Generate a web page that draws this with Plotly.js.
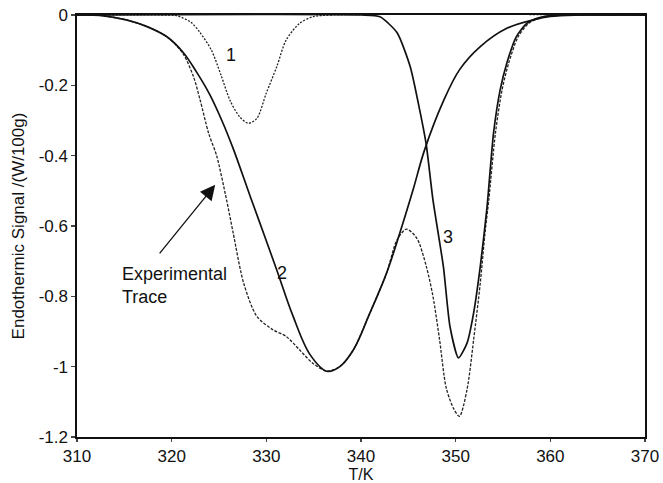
<!DOCTYPE html>
<html>
<head>
<meta charset="utf-8">
<script src="https://cdn.plot.ly/plotly-3.0.1.min.js"></script>
<style>html,body{margin:0;padding:0;background:#fff;}#chart{width:663px;height:483px;}</style>
</head>
<body>
<div id="chart"></div>
<script>
// Curve 1 (dotted, small peak)
const c1X = [310, 319, 320.5, 322, 323, 324.2, 325.2, 326.2, 327.2, 328.1, 329, 330, 331.1, 332.1, 333.5, 334.9, 337, 370];
const c1Y = [0, 0, -0.002, -0.02, -0.05, -0.1, -0.17, -0.245, -0.29, -0.308, -0.294, -0.222, -0.147, -0.071, -0.024, -0.005, 0, 0];

// Curve 2 (solid, broad peak)
const c2X = [310, 312.4, 315.2, 317.4, 319.5, 321.2, 322.6, 324, 325.3, 326.5, 328.3, 329.7, 331.1, 332.8, 334.6, 336.4, 337.8, 339.2, 340.9, 342.7, 344.1, 345.5, 346.7, 348.7, 350.4, 352.6, 355.4, 358.2, 360, 363, 370];
const c2Y = [0, -0.001, -0.014, -0.033, -0.062, -0.106, -0.161, -0.225, -0.3, -0.38, -0.516, -0.62, -0.725, -0.855, -0.965, -1.013, -0.999, -0.952, -0.85, -0.734, -0.62, -0.497, -0.385, -0.245, -0.156, -0.09, -0.038, -0.014, -0.004, 0, 0];

// Curve 3 (solid, narrow peak)
const c3X = [310, 340, 342, 343.8, 345.2, 346.2, 346.9, 347.6, 348.7, 349.4, 350.3, 351.2, 351.9, 352.6, 353.3, 354.0, 354.7, 355.4, 356.4, 357.5, 358.5, 360, 362, 370];
const c3Y = [0, 0, -0.005, -0.05, -0.147, -0.27, -0.37, -0.526, -0.715, -0.886, -0.975, -0.933, -0.847, -0.715, -0.55, -0.336, -0.213, -0.137, -0.062, -0.024, -0.01, -0.002, 0, 0];

// Experimental trace (fine dotted)
const expX = [310, 312.4, 315.2, 317.4, 319.5, 321.2, 322.3, 323.0, 323.9, 324.75, 325.8, 326.5, 327.6, 329.0, 330.7, 332.1, 333.5, 334.9, 336.4, 337.8, 339.2, 340.9, 342.7, 343.8, 344.8, 345.9, 346.9, 347.6, 348.3, 349.0, 349.8, 350.4, 351.2, 351.9, 352.6, 353.1, 353.5, 354.2, 354.9, 355.6, 356.6, 357.7, 358.7, 360, 362, 370];
const expY = [0, -0.001, -0.014, -0.033, -0.062, -0.11, -0.175, -0.241, -0.336, -0.40, -0.526, -0.62, -0.762, -0.857, -0.895, -0.914, -0.952, -0.99, -1.013, -0.999, -0.952, -0.85, -0.734, -0.64, -0.609, -0.635, -0.715, -0.8, -0.923, -1.06, -1.12, -1.141, -1.065, -0.923, -0.762, -0.62, -0.526, -0.336, -0.213, -0.137, -0.062, -0.024, -0.01, -0.002, 0, 0];

const xTicks = [310, 320, 330, 340, 350, 360, 370];
const yTicks = [0, -0.2, -0.4, -0.6, -0.8, -1, -1.2];
const yTickText = ["0", "-0.2", "-0.4", "-0.6", "-0.8", "-1", "-1.2"];

const labels = ["1", "2", "3"];
const labelX = [326.3, 331.7, 349.2];
const labelY = [-0.114, -0.734, -0.63];

const FONT = 'Liberation Sans, Arial, sans-serif';

const traces = [
  {x: c1X, y: c1Y, mode: 'lines', line: {color: '#222', width: 1.3, dash: '2px,1.5px', shape: 'spline', smoothing: 0.8}},
  {x: expX, y: expY, mode: 'lines', line: {color: '#222', width: 1.3, dash: '3px,1.5px', shape: 'spline', smoothing: 0.8}},
  {x: c2X, y: c2Y, mode: 'lines', line: {color: '#111', width: 1.7, shape: 'spline', smoothing: 1}},
  {x: c3X, y: c3Y, mode: 'lines', line: {color: '#111', width: 1.7, shape: 'spline', smoothing: 0.6}}
];

const annotations = labels.map((t, i) => ({
  x: labelX[i], y: labelY[i], text: t, showarrow: false,
  font: {family: FONT, size: 18, color: '#111'}
}));
annotations.push({
  x: 314.5, y: -0.77, xanchor: 'left', align: 'left', text: 'Experimental<br>Trace', showarrow: false,
  font: {family: FONT, size: 18, color: '#111'}
});
annotations.push({
  x: 324.6, y: -0.483, ax: 318.6, ay: -0.682, axref: 'x', ayref: 'y', xref: 'x', yref: 'y',
  text: '', showarrow: true, arrowhead: 2, arrowsize: 2.3, arrowwidth: 1.3, arrowcolor: '#111'
});

const layout = {
  width: 663, height: 483,
  margin: {l: 77, r: 18, t: 15, b: 46},
  paper_bgcolor: '#fff', plot_bgcolor: '#fff',
  showlegend: false,
  font: {family: FONT, size: 17, color: '#111'},
  xaxis: {
    range: [310, 370], tickvals: xTicks, ticks: 'outside', ticklen: 3, tickwidth: 1.3,
    showgrid: false, zeroline: false, showline: true, linecolor: '#111', linewidth: 1.6, mirror: true,
    tickfont: {size: 17}, title: {text: 'T/K', font: {size: 16}, standoff: 5}
  },
  yaxis: {
    range: [-1.2, 0], tickvals: yTicks, ticktext: yTickText, ticks: 'outside', ticklen: 4, tickwidth: 1.3,
    showgrid: false, zeroline: false, showline: true, linecolor: '#111', linewidth: 1.6, mirror: true,
    tickfont: {size: 17}, title: {text: 'Endothermic Signal /(W/100g)', font: {size: 17}, standoff: 10}
  },
  annotations: annotations
};

Plotly.newPlot('chart', traces, layout, {displayModeBar: false, staticPlot: true});
</script>
</body>
</html>
